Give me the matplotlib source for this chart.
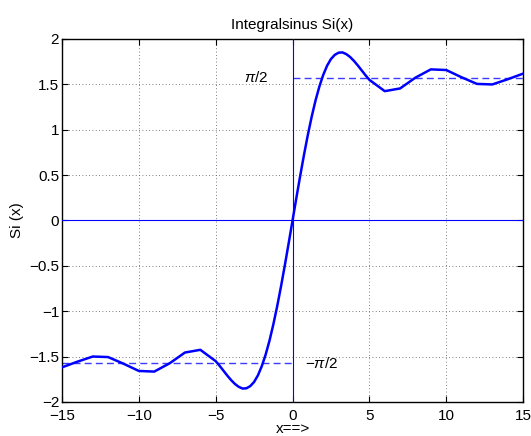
import numpy as np
import matplotlib
matplotlib.use("Agg")
import matplotlib.pyplot as plt

plt.rcParams['font.family'] = ['Liberation Sans', 'DejaVu Sans']
plt.rcParams['mathtext.fontset'] = 'custom'
plt.rcParams['mathtext.it'] = 'Liberation Sans:italic'

# Si(x), coarse at the tails, fine in the middle
x_vals = [-15, -14, -13, -12, -11, -10, -9, -8, -7, -6,
          -5, -4.75, -4.5, -4.25, -4, -3.75, -3.5, -3.25, -3, -2.75,
          -2.5, -2.25, -2, -1.75, -1.5, -1.25, -1, -0.75, -0.5, -0.25,
          0, 0.25, 0.5, 0.75, 1, 1.25, 1.5, 1.75, 2, 2.25,
          2.5, 2.75, 3, 3.25, 3.5, 3.75, 4, 4.25, 4.5, 4.75,
          5, 6, 7, 8, 9, 10, 11, 12, 13, 14, 15]
si_vals = [-1.618, -1.556, -1.499, -1.505, -1.578, -1.658, -1.665, -1.574, -1.455, -1.425,
           -1.550, -1.600, -1.654, -1.708, -1.758, -1.801, -1.833, -1.852, -1.849, -1.825,
           -1.779, -1.706, -1.605, -1.478, -1.325, -1.146, -0.946, -0.727, -0.493, -0.249,
           0.0, 0.249, 0.493, 0.727, 0.946, 1.146, 1.325, 1.478, 1.605, 1.706,
           1.779, 1.825, 1.849, 1.852, 1.833, 1.801, 1.758, 1.708, 1.654, 1.600,
           1.550, 1.425, 1.455, 1.574, 1.665, 1.658, 1.578, 1.505, 1.499, 1.556, 1.618]

half_pi = np.pi / 2
fs = 11

fig = plt.figure(figsize=(5.31, 4.36), dpi=100)
ax = fig.add_axes([0.1168, 0.078, 0.8682, 0.8326])

ax.plot(x_vals, si_vals, color='#0000ff', lw=1.8, zorder=4)
ax.axhline(0, color='#0000ff', lw=0.8, zorder=3)
ax.axvline(0, color='#0000ff', lw=0.8, zorder=3)
ax.plot([0, 15], [half_pi, half_pi], '--', color='#3c3cff', lw=1.0, dashes=(5, 3))
ax.plot([-15, 0], [-half_pi, -half_pi], '--', color='#3c3cff', lw=1.0, dashes=(5, 3))
ax.text(-1.6, half_pi, r'$\pi$/2', fontsize=fs, ha='right', va='center')
ax.text(0.8, -half_pi, '\u2212' + r'$\pi$/2', fontsize=fs, ha='left', va='center')

ax.set_xlim(-15, 15)
ax.set_ylim(-2, 2)
ax.set_xticks(np.arange(-15, 16, 5))
ax.set_yticks(np.arange(-2, 2.01, 0.5))
ax.set_yticklabels(['\u22122', '\u22121.5', '\u22121', '\u22120.5', '0', '0.5', '1', '1.5', '2'])
ax.set_xticklabels(['\u221215', '\u221210', '\u22125', '0', '5', '10', '15'])
ax.tick_params(direction='in', top=True, right=True, labelsize=fs, length=4)
ax.tick_params(axis='x', pad=5)
ax.tick_params(axis='y', pad=2)
ax.grid(True, linestyle=(0, (1, 3)), color='#555555', lw=0.6)
for s in ax.spines.values():
    s.set_linewidth(1.0)

ax.set_title('Integralsinus Si(x)', fontsize=fs, pad=7)
ax.set_xlabel('x==>', fontsize=fs, labelpad=-1)
ax.set_ylabel('Si (x)', fontsize=fs, labelpad=4)

fig.savefig('out.png', dpi=100)
